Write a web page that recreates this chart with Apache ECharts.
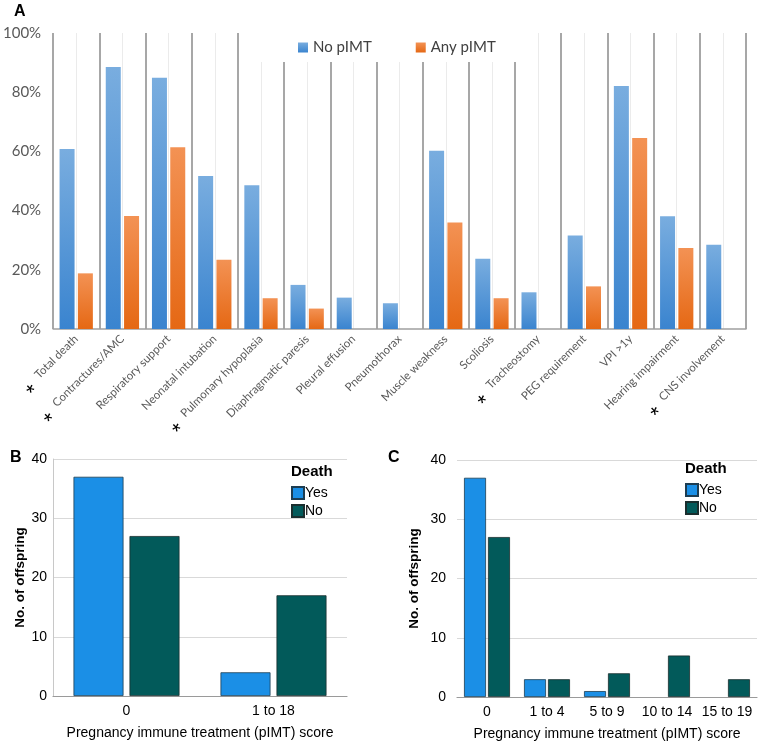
<!DOCTYPE html>
<html>
<head>
<meta charset="utf-8">
<script src="https://cdn.jsdelivr.net/npm/echarts@6/dist/echarts.min.js"></script>
<style>html,body{margin:0;padding:0;background:#fff}#c{width:758px;height:742px}</style>
</head>
<body>
<div id="c"></div>
<script>
// ---- Panel A data ----
var categoriesA = ['Total death','Contractures/AMC','Respiratory support','Neonatal intubation','Pulmonary hypoplasia','Diaphragmatic paresis','Pleural effusion','Pneumothorax','Muscle weakness','Scoliosis','Tracheostomy','PEG requirement','VPI >1y','Hearing impairment','CNS involvement'];
var starredA = [true,true,false,false,true,false,false,false,false,false,true,false,false,false,true];
var noPIMT  = [60.8, 88.5, 84.9, 51.7, 48.6, 14.9, 10.6, 8.7, 60.2, 23.7, 12.4, 31.6, 82.1, 38.1, 28.5];
var anyPIMT = [18.8, 38.2, 61.4, 23.4, 10.4, 6.9, 0, 0, 36.0, 10.4, 0, 14.4, 64.5, 27.4, 0];
var ticksA = [0, 20, 40, 60, 80, 100];
// ---- Panel B data ----
var categoriesB = ['0', '1 to 18'];
var yesB = [37, 4];
var noB  = [27, 17];
// ---- Panel C data ----
var categoriesC = ['0', '1 to 4', '5 to 9', '10 to 14', '15 to 19'];
var yesC = [37, 3, 1, 0, 0];
var noC  = [27, 3, 4, 7, 3];

function nz(arr){ return arr.map(function(v){ return v === 0 ? null : v; }); }

var chart = echarts.init(document.getElementById('c'), null, {renderer:'canvas'});
var blueGrad = new echarts.graphic.LinearGradient(0,0,0,1,[{offset:0,color:'#79addf'},{offset:1,color:'#3a84cf'}]);
var orangeGrad = new echarts.graphic.LinearGradient(0,0,0,1,[{offset:0,color:'#f39254'},{offset:1,color:'#e56814'}]);
var yesColor = '#1b8fe6', noColor = '#025a5a';
var sans = 'Liberation Sans, Arial, sans-serif';

var option = {
  backgroundColor: '#fff',
  animation: false,
  graphic: [
    {type:'text', left: 14, top: 4, style:{text:'A', font:'bold 16px ' + sans, fill:'#000'}},
    {type:'text', left: 10, top: 450, style:{text:'B', font:'bold 16px ' + sans, fill:'#000'}},
    {type:'text', left: 388, top: 450, style:{text:'C', font:'bold 16px ' + sans, fill:'#000'}},
    {type:'text', left: 291, top: 464, style:{text:'Death', font:'bold 15px ' + sans, fill:'#000'}},
    {type:'text', left: 685, top: 461, style:{text:'Death', font:'bold 15px ' + sans, fill:'#000'}}
  ],
  legend: [
    {data:['No pIMT','Any pIMT'], left: 258, top: 33, orient:'horizontal', itemGap: 44,
     backgroundColor:'#fff', padding:[7, 42, 7, 40], icon:'rect', itemWidth:10, itemHeight:10,
     textStyle:{fontFamily:'Lato, sans-serif', fontSize:15, color:'#404040'}},
    {data:['Yes','No'], left: 289, top: 484, orient:'vertical', itemGap: 4, icon:'rect',
     itemWidth:12, itemHeight:12, padding:[2,2,2,2],
     textStyle:{fontFamily:sans, fontSize:14, color:'#000', padding:[0,0,0,-4]}},
    {data:['Yes','No'], left: 683, top: 481, orient:'vertical', itemGap: 4, icon:'rect',
     itemWidth:12, itemHeight:12, padding:[2,2,2,2],
     textStyle:{fontFamily:sans, fontSize:14, color:'#000', padding:[0,0,0,-4]}}
  ],
  grid: [
    {left: 52, right: 12, top: 33, height: 296},
    {left: 53, top: 459, width: 294, height: 237},
    {left: 457, top: 460, width: 300, height: 237}
  ],
  xAxis: [
    {type:'category', gridIndex:0, data: categoriesA,
     axisLine:{lineStyle:{color:'#a0a0a0', width:1.5}}, axisTick:{show:false},
     axisLabel:{rotate:45, interval:0, margin:8, fontFamily:'Lato, sans-serif', fontSize:11.5, color:'#595959',
       formatter: function(v, i){ return starredA[i] ? '{s|*}   ' + v : v; },
       rich:{s:{fontSize:22, color:'#000', fontFamily:sans, padding:[18,0,0,0]}}}},
    {type:'value', gridIndex:0, min:0, max:15, interval:1, position:'top',
     axisLine:{show:false}, axisTick:{show:false}, axisLabel:{show:false},
     splitLine:{show:true, lineStyle:{color:'#8a8a8a', width:1.5}},
     minorTick:{show:false, splitNumber:2},
     minorSplitLine:{show:true, lineStyle:{color:'#ebebeb', width:1}}},
    {type:'category', gridIndex:1, data: categoriesB,
     axisLine:{lineStyle:{color:'#9a9a9a', width:1.2}}, axisTick:{show:false},
     axisLabel:{fontFamily:sans, fontSize:14, color:'#000', margin:8},
     name:'Pregnancy immune treatment (pIMT) score', nameLocation:'middle', nameGap:30,
     nameTextStyle:{fontFamily:sans, fontSize:14, color:'#000'}},
    {type:'category', gridIndex:2, data: categoriesC,
     axisLine:{lineStyle:{color:'#9a9a9a', width:1.2}}, axisTick:{show:false},
     axisLabel:{interval:0, fontFamily:sans, fontSize:14, color:'#000', margin:8},
     name:'Pregnancy immune treatment (pIMT) score', nameLocation:'middle', nameGap:30,
     nameTextStyle:{fontFamily:sans, fontSize:14, color:'#000'}}
  ],
  yAxis: [
    {type:'value', gridIndex:0, min:ticksA[0], max:ticksA[ticksA.length-1], interval:20,
     axisLine:{show:false}, axisTick:{show:false}, splitLine:{show:false},
     axisLabel:{formatter:'{value}%', fontFamily:'Lato, sans-serif', fontSize:15, color:'#595959', margin:12}},
    {type:'value', gridIndex:1, min:0, max:40, interval:10,
     axisLine:{show:true, lineStyle:{color:'#c8c8c8'}}, axisTick:{show:false},
     splitLine:{lineStyle:{color:'#d9d9d9'}},
     axisLabel:{fontFamily:sans, fontSize:14, color:'#000', margin:6},
     name:'No. of offspring', nameLocation:'middle', nameRotate:90, nameGap:26,
     nameTextStyle:{fontFamily:sans, fontSize:13.5, fontWeight:'bold', color:'#000'}},
    {type:'value', gridIndex:2, min:0, max:40, interval:10,
     axisLine:{show:false}, axisTick:{show:false},
     splitLine:{lineStyle:{color:'#d9d9d9'}},
     axisLabel:{fontFamily:sans, fontSize:14, color:'#000', margin:11},
     name:'No. of offspring', nameLocation:'middle', nameRotate:90, nameGap:36,
     nameTextStyle:{fontFamily:sans, fontSize:13.5, fontWeight:'bold', color:'#000'}}
  ],
  series: [
    {name:'No pIMT', type:'bar', xAxisIndex:0, yAxisIndex:0, data: noPIMT, barWidth:15, barGap:'22%',
     itemStyle:{color: blueGrad}},
    {name:'Any pIMT', type:'bar', xAxisIndex:0, yAxisIndex:0, data: nz(anyPIMT), barWidth:15, barGap:'22%',
     itemStyle:{color: orangeGrad}},
    {name:'Yes', type:'bar', xAxisIndex:2, yAxisIndex:1, data: yesB, barWidth:50, barGap:'12%',
     itemStyle:{color: yesColor, borderColor:'#1d3d52', borderWidth:0.8}},
    {name:'No', type:'bar', xAxisIndex:2, yAxisIndex:1, data: noB, barWidth:50, barGap:'12%',
     itemStyle:{color: noColor, borderColor:'#1a2e2e', borderWidth:0.8}},
    {name:'Yes', type:'bar', xAxisIndex:3, yAxisIndex:2, data: nz(yesC), barWidth:22, barGap:'9%',
     itemStyle:{color: yesColor, borderColor:'#1d3d52', borderWidth:0.8}},
    {name:'No', type:'bar', xAxisIndex:3, yAxisIndex:2, data: nz(noC), barWidth:22, barGap:'9%',
     itemStyle:{color: noColor, borderColor:'#1a2e2e', borderWidth:0.8}}
  ]
};
chart.setOption(option);
</script>
</body>
</html>
